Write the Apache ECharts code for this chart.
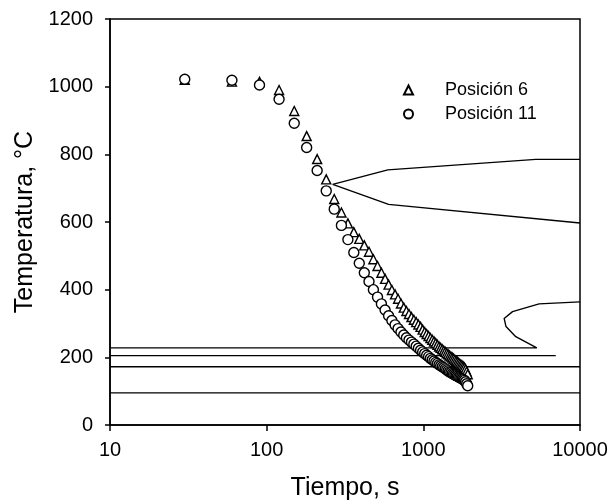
<!DOCTYPE html>
<html>
<head>
<meta charset="utf-8">
<script src="https://cdn.jsdelivr.net/npm/echarts@6/dist/echarts.min.js"></script>
<style>
  html, body { margin: 0; padding: 0; background: #fff; }
  #chart { width: 615px; height: 501px; }
</style>
</head>
<body>
<div id="chart"></div>
<script>
// ---- Data ----
const tiempo = [30, 60, 90, 120, 150, 180, 210, 240, 270, 300, 330, 360, 390, 420, 450, 480, 510, 540, 570, 600,
  630, 660, 690, 720, 750, 780, 810, 840, 870, 900, 930, 960, 990, 1020, 1050, 1080, 1110, 1140, 1170, 1200,
  1230, 1260, 1290, 1320, 1350, 1380, 1410, 1440, 1470, 1500, 1530, 1560, 1590, 1620, 1650, 1680, 1710, 1740, 1770, 1800,
  1830, 1860, 1890, 1920];
const posicion6 = [1020, 1015, 1014, 990, 928, 854, 786, 726, 668, 628, 596, 570, 550, 531, 512, 490, 470, 450, 432, 415,
  399, 386, 373, 359, 347, 337, 328, 319, 311, 304, 297, 290, 282, 275, 269, 263, 257, 252, 247, 242,
  237, 232, 228, 224, 220, 216, 212, 209, 205, 202, 199, 196, 193, 190, 187, 184, 181, 178, 176, 173,
  170, 165, 158, 150];
const posicion11 = [1022, 1019, 1005, 963, 892, 820, 752, 692, 638, 590, 548, 510, 478, 450, 424, 400, 378, 358, 340, 323,
  309, 296, 285, 275, 266, 258, 251, 245, 239, 233, 227, 221, 216, 211, 206, 202, 197, 193, 189, 185,
  182, 178, 175, 172, 169, 166, 163, 160, 157, 155, 152, 150, 148, 146, 144, 142, 140, 138, 136, 134,
  132, 128, 122, 116];

// transformation curves [time, temperature]
const ferritaInicio = [[264, 711], [593, 754], [5220, 785], [10000, 785]];
const ferritaFin = [[264, 711], [600, 652], [10000, 597]];
const bainitaMs = [[10, 228], [5300, 228], [3890, 261], [3370, 291], [3280, 315], [3710, 335], [5480, 358], [10000, 364]];
const linea205 = [[10, 205], [7000, 205]];
const linea172 = [[10, 172], [10000, 172]];
const linea95 = [[10, 95], [10000, 95]];

const xTicks = [10, 100, 1000, 10000];
const yTicks = [0, 200, 400, 600, 800, 1000, 1200];

// ---- Chart ----
const FONT = 'Liberation Sans, Arial, sans-serif';
const chart = echarts.init(document.getElementById('chart'), null, { renderer: 'canvas' });

function toPairs(xs, ys) { return xs.map((x, i) => [x, ys[i]]); }
function lineSeries(data) {
  return {
    type: 'line', data: data, symbol: 'none', silent: true,
    lineStyle: { color: '#000', width: 1.4 }, z: 1, legendHoverLink: false
  };
}

chart.setOption({
  animation: false,
  backgroundColor: '#fff',
  textStyle: { fontFamily: FONT, color: '#000' },
  grid: {
    left: 110, right: 35, top: 19, bottom: 76, containLabel: false, outerBoundsMode: 'none',
    show: true, borderColor: '#000', borderWidth: 1.5
  },
  legend: {
    orient: 'vertical', left: 398, top: 76,
    itemWidth: 9, itemHeight: 9, itemGap: 6,
    data: ['Posición 6', 'Posición 11'],
    textStyle: { fontSize: 18, fontFamily: FONT, color: '#000', padding: [0, 0, 0, 27] },
    selectedMode: false
  },
  xAxis: {
    type: 'log', logBase: 10, min: xTicks[0], max: xTicks[xTicks.length - 1],
    name: 'Tiempo, s', nameLocation: 'middle', nameGap: 51,
    nameTextStyle: { fontSize: 25, fontFamily: FONT, color: '#000' },
    axisLine: { lineStyle: { color: '#000', width: 1.5 } },
    axisTick: { show: true, length: 6, lineStyle: { color: '#000', width: 1.5 } },
    minorTick: { show: false },
    splitLine: { show: false },
    axisLabel: { fontSize: 20, color: '#000', margin: 15, formatter: v => String(Math.round(v)) }
  },
  yAxis: {
    type: 'value', min: yTicks[0], max: yTicks[yTicks.length - 1], interval: 200,
    name: 'Temperatura, °C', nameLocation: 'middle', nameGap: 66,
    nameTextStyle: { fontSize: 25, fontFamily: FONT, color: '#000' },
    axisLine: { show: true, lineStyle: { color: '#000', width: 1.5 } },
    axisTick: { show: true, length: 5, lineStyle: { color: '#000', width: 1.5 } },
    splitLine: { show: false },
    axisLabel: { fontSize: 20, color: '#000', margin: 17, formatter: v => String(v) }
  },
  series: [
    lineSeries(ferritaInicio),
    lineSeries(ferritaFin),
    lineSeries(bainitaMs),
    lineSeries(linea205),
    lineSeries(linea172),
    lineSeries(linea95),
    {
      name: 'Posición 6', type: 'scatter', data: toPairs(tiempo, posicion6),
      symbol: 'triangle', symbolSize: 9, z: 3,
      itemStyle: { color: '#fff', borderColor: '#000', borderWidth: 1.4, opacity: 1 }
    },
    {
      name: 'Posición 11', type: 'scatter', data: toPairs(tiempo, posicion11),
      symbol: 'circle', symbolSize: 10, z: 3,
      itemStyle: { color: '#fff', borderColor: '#000', borderWidth: 1.4, opacity: 1 }
    }
  ]
});
</script>
</body>
</html>
